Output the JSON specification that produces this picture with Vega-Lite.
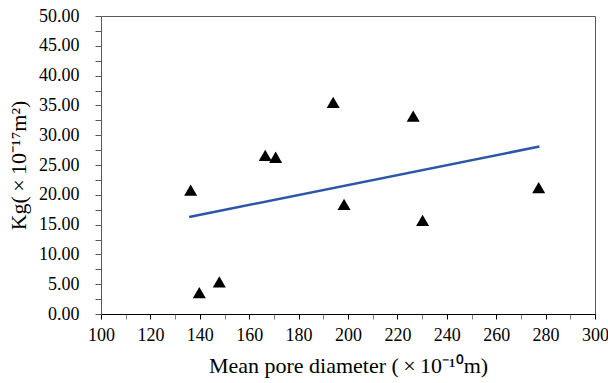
{
  "$schema": "https://vega.github.io/schema/vega-lite/v6.json",
  "autosize": "none",
  "width": 494,
  "height": 298,
  "padding": {"left": 101, "top": 16, "right": 13, "bottom": 69},
  "background": "white",
  "config": {
    "view": {"stroke": "#595959", "strokeWidth": 1},
    "font": "Liberation Serif",
    "style": {
      "guide-label": {"font": "Liberation Serif", "fontSize": 18, "fill": "#000000"},
      "guide-title": {"font": "Liberation Serif", "fontSize": 22, "fill": "#000000", "fontWeight": "normal"}
    },
    "axis": {
      "labelFont": "Liberation Serif",
      "titleFont": "Liberation Serif",
      "labelFontSize": 18,
      "titleFontSize": 22,
      "labelColor": "#000000",
      "titleColor": "#000000",
      "titleFontWeight": "normal",
      "grid": false
    }
  },
  "datasets": {
    "points": [
      {"d": 136.3, "kg": 20.8},
      {"d": 139.8, "kg": 3.6},
      {"d": 147.9, "kg": 5.4},
      {"d": 166.5, "kg": 26.6},
      {"d": 170.7, "kg": 26.3},
      {"d": 194.0, "kg": 35.5},
      {"d": 198.4, "kg": 18.4},
      {"d": 226.4, "kg": 33.2},
      {"d": 230.2, "kg": 15.7},
      {"d": 277.2, "kg": 21.2}
    ],
    "trend": [
      {"d": 135.7, "kg": 16.27},
      {"d": 277.5, "kg": 28.1}
    ]
  },
  "encoding": {
    "x": {
      "field": "d", "type": "quantitative",
      "scale": {"domain": [100, 300], "nice": false, "zero": false},
      "axis": {
        "title": "Mean pore diameter (\u2009×\u200910⁻¹⁰m)",
        "values": [100, 110, 120, 130, 140, 150, 160, 170, 180, 190, 200, 210, 220, 230, 240, 250, 260, 270, 280, 290, 300],
        "labelExpr": "datum.value % 20 == 0 ? datum.label : ''",
        "labelFont": "Liberation Serif",
        "titleFont": "Liberation Serif",
        "domainColor": "#000000",
        "tickColor": {"condition": {"test": "datum.value % 20 == 0", "value": "#000000"}, "value": "#7f7f7f"},
        "tickSize": 5,
        "labelPadding": 7,
        "titlePadding": 11,
        "labelFlush": false,
        "labelOverlap": false
      }
    },
    "y": {
      "field": "kg", "type": "quantitative",
      "scale": {"domain": [0, 50], "nice": false},
      "axis": {
        "title": "Kg(\u2009×\u200910⁻¹⁷m²)",
        "values": [0, 2.5, 5, 7.5, 10, 12.5, 15, 17.5, 20, 22.5, 25, 27.5, 30, 32.5, 35, 37.5, 40, 42.5, 45, 47.5, 50],
        "labelExpr": "datum.value % 5 == 0 ? format(datum.value, '.2f') : ''",
        "labelFont": "Liberation Serif",
        "titleFont": "Liberation Serif",
        "domainColor": "#595959",
        "tickColor": "#595959",
        "tickSize": 6,
        "labelPadding": 16,
        "titlePadding": 8,
        "labelFlush": false,
        "labelOverlap": false
      }
    }
  },
  "layer": [
    {
      "data": {"name": "trend"},
      "mark": {"type": "line", "color": "#2E56A8", "strokeWidth": 2.5}
    },
    {
      "data": {"name": "points"},
      "mark": {"type": "point", "shape": "triangle-up", "filled": true, "color": "#000000", "opacity": 1, "size": 170}
    }
  ]
}
